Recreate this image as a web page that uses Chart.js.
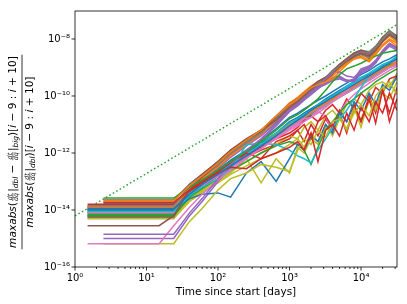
<!DOCTYPE html>
<html>
<head>
<meta charset="utf-8">
<script src="https://cdn.jsdelivr.net/npm/chart.js@4.4.0/dist/chart.umd.min.js"></script>
<style>
  html, body { margin: 0; padding: 0; background: #fff; }
</style>
</head>
<body>
<canvas id="chart" width="407" height="304"></canvas>
<script>
// shared time grid for every run (days)
const days = [1.5, 2.5, 15, 24, 40, 60, 100, 150, 250, 400, 650, 1000, 1300, 1600, 2000, 2500,
  3200, 4000, 5000, 6300, 8000, 10000, 13000, 16000, 20000, 25000, 31850];

// log10 of the relative error for each run (null = run not started yet)
const run00 = [-13.95,-13.95,-13.95,-13.95,-13.45,-13.1,-12.75,-12.45,-12.1,-11.75,-11.4,-11.05,-10.85,-10.7,-10.5,-10.35,-10.2,-10.05,-9.9,-9.75,-9.6,-9.45,-9.3,-9.15,-9.0,-8.85,-8.7];
const run01 = [null,-13.68,-13.68,-13.68,-13.15,-12.8,-12.35,-11.95,-11.55,-11.2,-10.7,-10.3,-10.1,-9.9,-9.7,-9.6,-9.5,-9.3,-9.05,-8.85,-8.7,-8.6,-8.75,-8.5,-8.2,-8.0,-8.15];
const run02 = [null,-13.58,-13.58,-13.58,-13.2,-12.95,-12.6,-12.3,-11.95,-11.6,-11.2,-10.8,-10.65,-10.5,-10.3,-10.1,-9.8,-9.5,-9.25,-9.05,-8.95,-8.85,-8.7,-8.6,-8.5,-8.45,-8.4];
const run03 = [null,-13.72,-13.72,-13.72,-13.3,-13.0,-12.7,-12.5,-12.55,-12.2,-12.0,-11.8,-11.6,-11.9,-11.3,-12.3,-11.2,-11.0,-11.4,-10.6,-11.2,-10.4,-10.9,-10.2,-10.6,-9.9,-10.5];
const run04 = [null,-14.85,-14.85,-14.85,-14.1,-13.6,-12.9,-12.4,-11.9,-11.5,-11.0,-10.5,-10.3,-10.1,-9.85,-9.65,-9.4,-9.2,-9.15,-9.3,-9.35,-9.1,-9.0,-8.8,-8.45,-8.2,-8.35];
const run05 = [-14.55,-14.55,-14.55,-14.2,-13.3,-12.85,-12.35,-11.95,-11.55,-11.2,-10.85,-10.4,-10.2,-10.0,-9.8,-9.6,-9.45,-9.25,-9.0,-8.8,-8.6,-8.5,-8.6,-8.4,-8.1,-7.85,-8.0];
const run06 = [-15.18,-15.18,-15.18,-14.55,-13.9,-13.45,-12.95,-12.6,-12.2,-11.85,-11.5,-11.1,-10.95,-10.8,-10.75,-10.6,-10.4,-10.2,-10.0,-9.8,-9.6,-9.45,-9.3,-9.15,-9.0,-8.85,-8.75];
const run07 = [-13.85,-13.85,-13.85,-13.85,-13.2,-12.85,-12.4,-12.0,-11.65,-11.3,-10.8,-10.3,-10.15,-9.95,-9.75,-9.55,-9.4,-9.15,-8.95,-8.75,-8.55,-8.45,-8.5,-8.3,-8.0,-7.75,-7.95];
const run08 = [null,-15.18,-15.18,-15.18,-14.4,-13.95,-13.3,-12.9,-12.7,-12.4,-12.5,-12.65,-11.9,-11.5,-11.7,-11.2,-11.45,-10.9,-10.8,-11.15,-10.6,-10.3,-10.7,-10.0,-9.7,-9.5,-9.95];
const run09 = [-14.05,-14.05,-14.05,-14.05,-13.5,-13.2,-12.9,-12.6,-11.7,-11.67,-11.7,-11.9,-12.1,-12.2,-12.35,-11.9,-11.5,-11.1,-10.8,-10.5,-10.1,-9.7,-9.3,-9.1,-8.9,-8.8,-8.6];
const run10 = [-14.0,-14.0,-14.0,-14.0,-13.6,-13.45,-13.4,-13.55,-12.7,-12.3,-13.0,-12.2,-11.7,-11.9,-11.4,-11.6,-11.0,-11.3,-10.6,-10.9,-10.2,-10.5,-9.9,-10.3,-9.6,-9.8,-9.3];
const run11 = [-13.9,-13.9,-13.9,-13.9,-13.25,-12.9,-12.5,-12.1,-11.7,-11.35,-10.85,-10.4,-10.2,-10.0,-9.75,-9.6,-9.5,-9.4,-9.15,-8.9,-8.7,-8.65,-8.8,-8.55,-8.25,-8.05,-8.25];
const run12 = [-14.2,-14.2,-14.2,-14.2,-13.55,-13.25,-12.9,-12.6,-12.3,-12.0,-11.75,-11.6,-11.7,-11.9,-12.4,-11.8,-11.2,-10.9,-10.6,-10.3,-10.1,-9.9,-9.7,-9.5,-9.35,-9.2,-9.05];
const run13 = [-13.8,-13.8,-13.8,-13.8,-13.35,-13.05,-12.65,-12.35,-12.0,-12.2,-11.6,-11.4,-11.2,-11.0,-11.5,-10.9,-10.7,-11.1,-10.5,-10.9,-10.3,-10.9,-10.1,-10.95,-9.8,-10.6,-9.7];
const run14 = [null,-15.0,-15.0,-15.0,-14.2,-13.7,-13.0,-12.5,-12.0,-11.55,-11.05,-10.55,-10.35,-10.15,-9.95,-9.75,-9.55,-9.35,-9.3,-9.45,-9.5,-9.2,-9.05,-8.85,-8.5,-8.25,-8.4];
const run15 = [-14.25,-14.25,-14.25,-14.25,-13.15,-12.8,-12.3,-11.9,-11.5,-11.2,-10.75,-10.3,-10.1,-9.9,-9.7,-9.5,-9.35,-9.15,-8.9,-8.7,-8.5,-8.4,-8.5,-8.3,-7.95,-7.75,-7.9];
const run16 = [-14.1,-14.1,-14.1,-14.1,-13.5,-13.15,-12.8,-12.5,-12.15,-11.85,-11.5,-11.2,-11.05,-10.9,-10.75,-10.55,-10.7,-11.3,-10.6,-10.2,-9.95,-9.75,-9.55,-9.4,-9.25,-9.1,-8.95];
const run17 = [-13.9,-13.9,-13.9,-13.9,-13.1,-12.8,-12.35,-12.0,-11.6,-11.3,-10.85,-10.35,-10.2,-10.0,-9.8,-9.6,-9.45,-9.2,-9.0,-8.8,-8.6,-8.5,-8.6,-8.35,-8.05,-7.8,-8.0];
const run18 = [-14.3,-14.3,-14.3,-14.3,-13.7,-13.4,-13.0,-12.7,-12.2,-13.05,-12.2,-12.7,-11.8,-12.0,-11.5,-11.7,-11.1,-11.3,-10.7,-11.2,-10.4,-11.1,-10.1,-10.5,-9.8,-9.6,-9.4];
const run19 = [-13.95,-13.95,-13.95,-13.95,-13.4,-13.05,-12.7,-12.4,-12.05,-11.7,-11.3,-10.95,-10.8,-10.65,-10.5,-10.3,-10.15,-10.0,-9.85,-9.65,-9.5,-9.35,-9.2,-9.05,-8.9,-8.8,-8.65];
const run20 = [null,-13.75,-13.75,-13.75,-13.3,-13.0,-12.6,-12.3,-12.0,-11.65,-11.3,-10.9,-10.75,-10.6,-10.45,-10.3,-10.1,-9.95,-9.8,-9.65,-9.5,-9.35,-9.25,-9.1,-8.95,-8.85,-8.7];
const run21 = [null,-13.78,-13.78,-13.78,-13.35,-13.05,-12.65,-12.35,-12.0,-11.7,-11.35,-11.0,-10.85,-10.7,-10.55,-10.4,-10.25,-10.1,-9.95,-9.8,-9.65,-9.5,-9.35,-9.2,-9.05,-8.95,-8.8];
const run22 = [-14.15,-14.15,-14.15,-14.15,-13.45,-13.1,-12.7,-12.4,-12.05,-11.7,-11.35,-11.0,-10.85,-10.7,-10.55,-10.4,-10.25,-10.1,-9.95,-9.8,-9.65,-9.5,-9.35,-9.2,-9.05,-8.9,-8.8];
const run23 = [-14.0,-14.0,-14.0,-14.0,-13.5,-13.2,-12.8,-12.45,-12.1,-11.8,-11.5,-11.3,-11.1,-10.85,-10.7,-10.9,-10.5,-10.3,-10.6,-10.1,-10.45,-9.9,-10.2,-9.7,-9.9,-9.4,-9.3];
const run24 = [-14.2,-14.2,-14.2,-14.2,-13.3,-12.95,-12.5,-12.1,-11.7,-11.35,-10.9,-10.45,-10.25,-10.05,-9.85,-9.7,-9.6,-9.45,-9.4,-9.5,-9.4,-9.05,-8.95,-8.75,-8.4,-8.15,-8.3];
const run25 = [null,-13.65,-13.65,-13.65,-13.1,-12.75,-12.3,-11.95,-11.55,-11.25,-10.8,-10.3,-10.1,-9.9,-9.7,-9.5,-9.4,-9.2,-8.95,-8.75,-8.55,-8.45,-8.55,-8.35,-8.0,-7.8,-7.95];
const run26 = [-14.05,-14.05,-14.05,-14.05,-13.45,-13.1,-12.75,-12.45,-12.1,-11.8,-11.45,-11.15,-11.0,-10.85,-10.7,-10.5,-10.35,-10.2,-10.05,-9.9,-9.75,-9.6,-9.45,-9.3,-9.15,-9.0,-8.9];
const run27 = [-14.1,-14.1,-14.1,-14.1,-13.2,-12.9,-12.45,-12.05,-11.7,-11.35,-10.9,-10.4,-10.25,-10.05,-9.85,-9.65,-9.5,-9.25,-9.05,-8.85,-8.65,-8.55,-8.65,-8.4,-8.1,-7.85,-8.05];
const run28 = [-14.25,-14.25,-14.25,-14.25,-13.6,-13.3,-12.95,-12.65,-12.3,-12.0,-11.7,-11.4,-11.5,-11.1,-10.9,-11.2,-10.7,-10.5,-10.8,-10.3,-10.1,-10.3,-9.8,-9.6,-9.5,-9.7,-9.2];
const run29 = [-14.0,-14.0,-14.0,-14.0,-13.4,-13.05,-12.7,-12.35,-12.0,-11.65,-11.3,-10.95,-10.8,-10.6,-10.45,-10.3,-10.15,-10.0,-9.85,-9.7,-9.55,-9.4,-9.25,-9.1,-8.95,-8.8,-8.7];
const run30 = [-14.0,-14.0,-14.0,-14.0,-13.4,-13.0,-12.6,-12.25,-11.9,-11.55,-11.15,-10.75,-10.6,-10.45,-10.3,-10.15,-10.0,-9.85,-9.7,-9.55,-9.4,-9.25,-9.1,-8.95,-8.8,-8.7,-8.55];
const run31 = [-13.85,-13.85,-13.85,-13.85,-13.2,-12.85,-12.4,-12.0,-11.6,-11.25,-10.75,-10.25,-10.05,-9.85,-9.65,-9.5,-9.4,-9.25,-9.0,-8.8,-8.6,-8.5,-8.7,-8.45,-8.1,-7.9,-8.1];
const run32 = [-14.1,-14.1,-14.1,-14.1,-13.45,-13.15,-12.8,-12.5,-12.15,-11.8,-11.45,-11.1,-10.95,-10.8,-10.65,-10.5,-10.35,-10.2,-10.05,-9.9,-9.75,-9.6,-9.45,-9.3,-9.15,-9.0,-8.9];
const run33 = [-13.9,-13.9,-13.9,-13.9,-13.4,-13.1,-12.75,-12.5,-12.15,-11.9,-11.7,-11.5,-11.2,-11.6,-11.0,-11.4,-10.8,-11.2,-10.6,-11.3,-10.4,-10.9,-10.0,-10.6,-9.7,-10.9,-10.1];
const run34 = [-14.3,-14.3,-14.3,-14.3,-13.35,-13.0,-12.55,-12.15,-11.75,-11.4,-10.95,-10.5,-10.3,-10.1,-9.9,-9.7,-9.55,-9.4,-9.35,-9.45,-9.45,-9.15,-9.0,-8.8,-8.45,-8.2,-8.3];
const run35 = [-14.2,-14.2,-14.2,-14.2,-13.1,-12.75,-12.3,-11.9,-11.55,-11.2,-10.7,-10.25,-10.1,-9.9,-9.7,-9.5,-9.35,-9.15,-8.9,-8.7,-8.5,-8.4,-8.5,-8.3,-7.95,-7.75,-7.9];
const run36 = [-14.15,-14.15,-14.15,-14.15,-13.5,-13.15,-12.8,-12.45,-12.1,-11.75,-11.4,-11.05,-10.9,-10.75,-10.6,-10.45,-10.3,-10.15,-10.0,-9.85,-9.7,-9.55,-9.4,-9.25,-9.1,-8.95,-8.85];
const run37 = [-13.95,-13.95,-13.95,-13.95,-13.15,-12.8,-12.35,-11.95,-11.6,-11.25,-10.8,-10.25,-10.1,-9.9,-9.7,-9.5,-9.35,-9.1,-8.9,-8.7,-8.5,-8.4,-8.45,-8.25,-7.95,-7.7,-7.9];
const run38 = [-14.2,-14.2,-14.2,-14.2,-13.65,-13.35,-13.05,-12.75,-12.45,-12.2,-12.0,-11.7,-11.5,-11.8,-11.3,-11.6,-11.0,-11.4,-10.8,-11.15,-10.5,-10.8,-10.2,-10.4,-9.9,-10.1,-9.5];
const run39 = [-14.05,-14.05,-14.05,-14.05,-13.45,-13.1,-12.75,-12.45,-12.1,-11.8,-11.4,-11.05,-10.9,-10.75,-10.6,-10.45,-10.3,-10.15,-10.0,-9.85,-9.7,-9.55,-9.4,-9.25,-9.1,-8.95,-8.8];

const runs = [run00, run01, run02, run03, run04, run05, run06, run07, run08, run09,
  run10, run11, run12, run13, run14, run15, run16, run17, run18, run19,
  run20, run21, run22, run23, run24, run25, run26, run27, run28, run29,
  run30, run31, run32, run33, run34, run35, run36, run37, run38, run39];

// dotted reference slope, end points
const refDays = [1, 31850];
const refValues = [6.2e-15, 3.2e-8];

// tick labels
const xTicks = [1, 10, 100, 1000, 10000];
const yTicks = [1e-16, 1e-14, 1e-12, 1e-10, 1e-8];

const tab10 = ["#1f77b4", "#ff7f0e", "#2ca02c", "#d62728", "#9467bd",
  "#8c564b", "#e377c2", "#7f7f7f", "#bcbd22", "#17becf"];

const sup = { "-": "\u207b", "0": "\u2070", "1": "\u00b9", "2": "\u00b2", "3": "\u00b3",
  "4": "\u2074", "5": "\u2075", "6": "\u2076", "7": "\u2077", "8": "\u2078", "9": "\u2079" };
const powLabel = (v) => "10" + String(Math.round(Math.log10(v))).split("").map(c => sup[c]).join("");

const datasets = runs.map((r, i) => ({
  label: "run " + i,
  data: days.map((d, j) => ({ x: d, y: r[j] === null ? null : Math.pow(10, r[j]) })),
  borderColor: tab10[i % 10],
  borderWidth: 1.5,
  pointRadius: 0,
  fill: false,
  tension: 0,
}));
datasets.push({
  label: "reference",
  data: refDays.map((d, j) => ({ x: d, y: refValues[j] })),
  borderColor: "#2ca02c",
  borderWidth: 1.5,
  borderDash: [1.5, 2.5],
  pointRadius: 0,
  fill: false,
});

// y label drawn as a stacked fraction, matplotlib mathtext style
const numParts = [["it", "maxabs"], ["rm", "("], ["frac", "dt", "dq"], ["rm", "|"], ["sub", "dbl"],
  ["rm", " \u2212 "], ["frac", "dt", "dq"], ["rm", "|"], ["sub", "big"], ["rm", ")["], ["it", "i"],
  ["rm", " \u2212 9 : "], ["it", "i"], ["rm", " + 10]"]];
const denParts = [["it", "maxabs"], ["rm", "("], ["frac", "dt", "dq"], ["rm", "|"], ["sub", "dbl"],
  ["rm", ")["], ["it", "i"], ["rm", " \u2212 9 : "], ["it", "i"], ["rm", " + 10]"]];

const FF = '"DejaVu Sans"';
function partFont(kind, S) {
  if (kind === "it") return `italic ${S}px ${FF}`;
  if (kind === "sub") return `italic ${0.7 * S}px ${FF}`;
  if (kind === "frac") return `italic ${0.6 * S}px ${FF}`;
  return `${S}px ${FF}`;
}
function partWidth(ctx, p, S) {
  ctx.font = partFont(p[0], S);
  if (p[0] === "frac") return Math.max(ctx.measureText(p[1]).width, ctx.measureText(p[2]).width) + 0.2 * S;
  return ctx.measureText(p[1]).width;
}
function rowWidth(ctx, parts, S) {
  return parts.reduce((a, p) => a + partWidth(ctx, p, S), 0);
}
function drawRow(ctx, parts, S, x, base) {
  parts.forEach(p => {
    const w = partWidth(ctx, p, S);
    ctx.font = partFont(p[0], S);
    if (p[0] === "frac") {
      const axis = base - 0.3 * S;
      ctx.textAlign = "center";
      ctx.fillText(p[1], x + w / 2, axis - 0.1 * S);
      ctx.fillText(p[2], x + w / 2, axis + 0.5 * S);
      ctx.textAlign = "left";
      ctx.beginPath();
      ctx.lineWidth = 0.6;
      ctx.moveTo(x + 0.1 * S, axis);
      ctx.lineTo(x + w - 0.1 * S, axis);
      ctx.stroke();
    } else if (p[0] === "sub") {
      ctx.fillText(p[1], x, base + 0.22 * S);
    } else {
      ctx.fillText(p[1], x, base);
    }
    x += w;
  });
}

const framePlugin = {
  id: "frame",
  afterDraw(chart) {
    const { ctx, chartArea: a, scales } = chart;
    ctx.save();
    ctx.strokeStyle = "#000";
    ctx.fillStyle = "#000";
    // axes box
    ctx.lineWidth = 0.8;
    ctx.strokeRect(a.left, a.top, a.right - a.left, a.bottom - a.top);
    // x ticks, major and minor
    for (let k = 0; k <= 4; k++) {
      for (let m = 1; m <= 9; m++) {
        const v = m * Math.pow(10, k);
        if (v > scales.x.max) break;
        const px = scales.x.getPixelForValue(v);
        ctx.beginPath();
        ctx.moveTo(px, a.bottom);
        ctx.lineTo(px, a.bottom + (m === 1 ? 3.5 : 2));
        ctx.stroke();
      }
    }
    // y ticks
    yTicks.forEach(v => {
      const py = scales.y.getPixelForValue(v);
      ctx.beginPath();
      ctx.moveTo(a.left, py);
      ctx.lineTo(a.left - 3.5, py);
      ctx.stroke();
    });
    // y title
    const probe = rowWidth(ctx, numParts, 10);
    const S = 10 * 192 / probe;
    const wNum = rowWidth(ctx, numParts, S);
    const wDen = rowWidth(ctx, denParts, S);
    ctx.translate(22, 152);
    ctx.rotate(-Math.PI / 2);
    ctx.textBaseline = "alphabetic";
    ctx.textAlign = "left";
    drawRow(ctx, numParts, S, -wNum / 2, -6);
    drawRow(ctx, denParts, S, -wDen / 2, 11);
    ctx.beginPath();
    ctx.lineWidth = 0.8;
    const wBar = Math.max(wNum, wDen) + 3;
    ctx.moveTo(-wBar / 2, 0);
    ctx.lineTo(wBar / 2, 0);
    ctx.stroke();
    ctx.restore();
  }
};

new Chart(document.getElementById("chart").getContext("2d"), {
  type: "line",
  data: { datasets },
  options: {
    responsive: false,
    animation: false,
    devicePixelRatio: 1,
    layout: { padding: { top: 10, right: 10, left: 0, bottom: 0 } },
    plugins: { legend: { display: false }, tooltip: { enabled: false } },
    scales: {
      x: {
        type: "logarithmic",
        min: 1,
        max: 31850,
        grid: { display: false, drawTicks: false, tickLength: 0 },
        border: { display: false },
        afterBuildTicks: (scale) => { scale.ticks = xTicks.map(v => ({ value: v })); },
        afterFit: (scale) => { scale.height = 37; },
        ticks: {
          color: "#000",
          padding: 5,
          maxRotation: 0,
          autoSkip: false,
          font: { family: "DejaVu Sans", size: 10 },
          callback: (v) => powLabel(v),
        },
        title: {
          display: true,
          text: "Time since start [days]",
          color: "#000",
          font: { family: "DejaVu Sans", size: 10.5 },
          padding: { top: 0, bottom: 5 },
        },
      },
      y: {
        type: "logarithmic",
        min: 1e-16,
        max: 9.6e-8,
        grid: { display: false, drawTicks: false, tickLength: 0 },
        border: { display: false },
        afterBuildTicks: (scale) => { scale.ticks = yTicks.map(v => ({ value: v })); },
        afterFit: (scale) => { scale.width = 75; },
        ticks: {
          color: "#000",
          padding: 5,
          autoSkip: false,
          font: { family: "DejaVu Sans", size: 10 },
          callback: (v) => powLabel(v),
        },
      },
    },
  },
  plugins: [framePlugin],
});
</script>
</body>
</html>
